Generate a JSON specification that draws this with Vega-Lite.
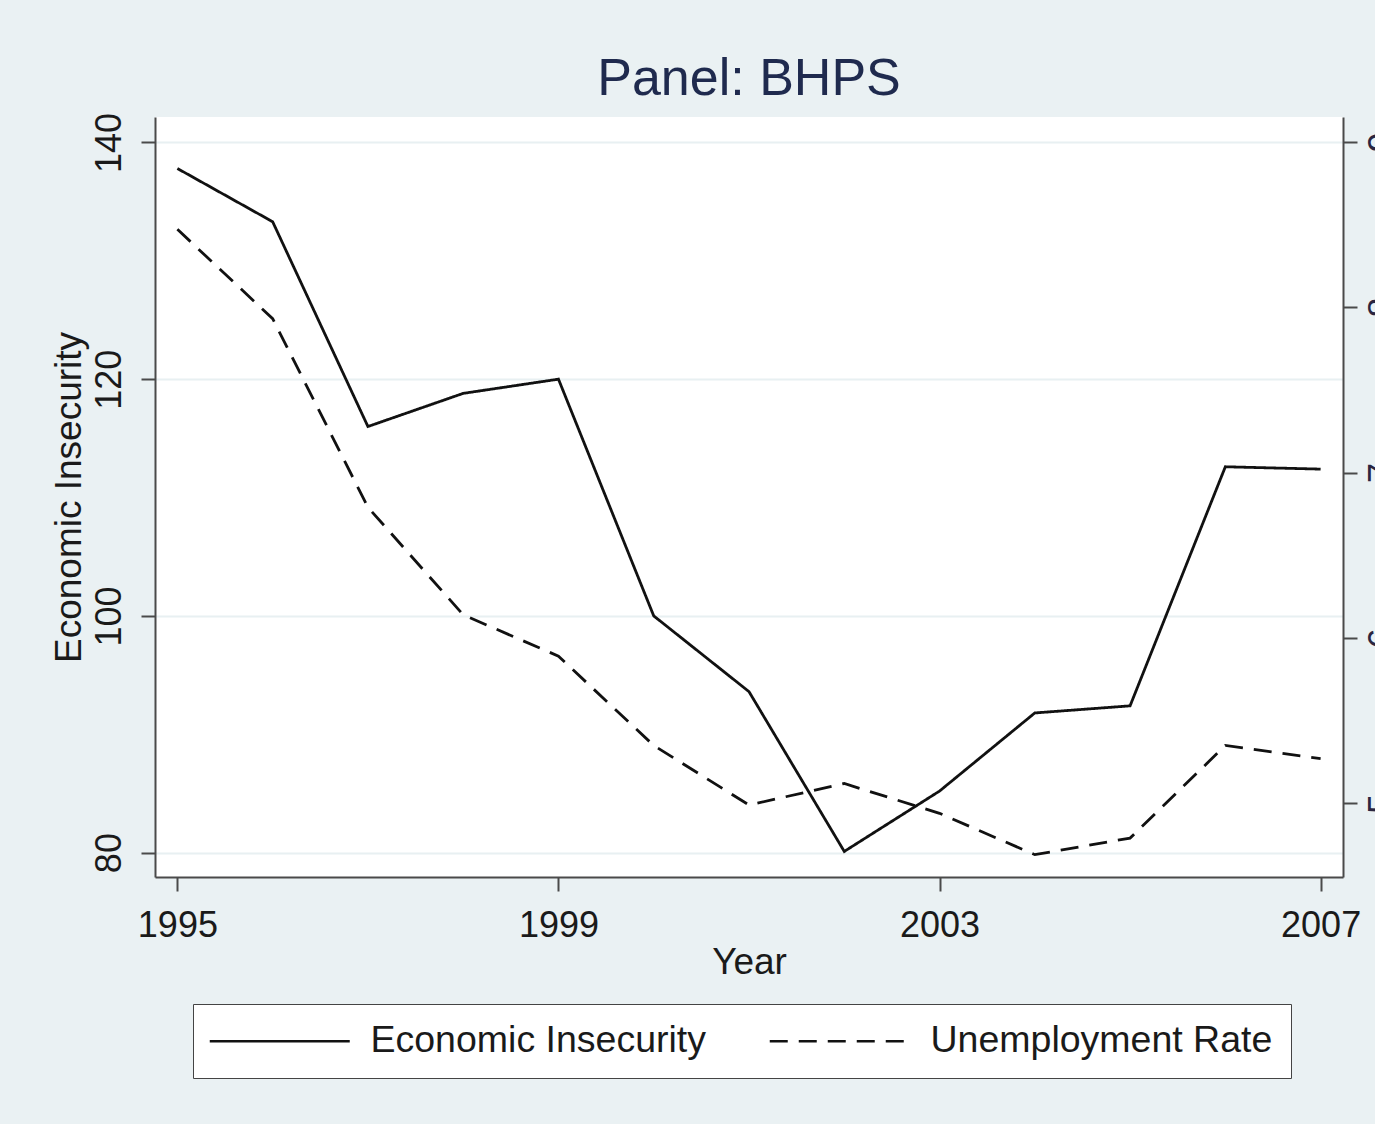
{
  "$schema": "https://vega.github.io/schema/vega-lite/v6.json",
  "width": 1188,
  "height": 760,
  "autosize": {"type": "none"},
  "padding": {"left": 155, "top": 117, "right": 32, "bottom": 247},
  "background": "#EAF1F3",
  "title": {
    "text": "Panel: BHPS",
    "font": "Liberation Sans",
    "fontSize": 52,
    "fontWeight": "normal",
    "color": "#1f2a4e",
    "anchor": "middle",
    "frame": "group",
    "baseline": "alphabetic",
    "offset": -35
  },
  "config": {
    "view": {"stroke": null, "fill": "white"},
    "axis": {
      "labelFont": "Liberation Sans",
      "labelFontSize": 36,
      "labelColor": "#1a1a1a",
      "titleFont": "Liberation Sans",
      "titleFontSize": 37,
      "titleFontWeight": "normal",
      "titleColor": "#1a1a1a",
      "domainColor": "#4a4a4a",
      "domainWidth": 2,
      "tickColor": "#4a4a4a",
      "tickWidth": 2,
      "tickSize": 14,
      "gridColor": "#E8F0F2",
      "gridWidth": 2
    }
  },
  "data": {
    "values": [
      {"year": 1995, "series": "Economic Insecurity", "value": 137.8},
      {"year": 1996, "series": "Economic Insecurity", "value": 133.3},
      {"year": 1997, "series": "Economic Insecurity", "value": 116.0},
      {"year": 1998, "series": "Economic Insecurity", "value": 118.8},
      {"year": 1999, "series": "Economic Insecurity", "value": 120.0},
      {"year": 2000, "series": "Economic Insecurity", "value": 100.0},
      {"year": 2001, "series": "Economic Insecurity", "value": 93.6},
      {"year": 2002, "series": "Economic Insecurity", "value": 80.1},
      {"year": 2003, "series": "Economic Insecurity", "value": 85.2},
      {"year": 2004, "series": "Economic Insecurity", "value": 91.8},
      {"year": 2005, "series": "Economic Insecurity", "value": 92.4},
      {"year": 2006, "series": "Economic Insecurity", "value": 112.6},
      {"year": 2007, "series": "Economic Insecurity", "value": 112.4},
      {"year": 1995, "series": "Unemployment Rate", "value": 8.47},
      {"year": 1996, "series": "Unemployment Rate", "value": 7.93},
      {"year": 1997, "series": "Unemployment Rate", "value": 6.79},
      {"year": 1998, "series": "Unemployment Rate", "value": 6.14},
      {"year": 1999, "series": "Unemployment Rate", "value": 5.89},
      {"year": 2000, "series": "Unemployment Rate", "value": 5.35},
      {"year": 2001, "series": "Unemployment Rate", "value": 4.99},
      {"year": 2002, "series": "Unemployment Rate", "value": 5.12},
      {"year": 2003, "series": "Unemployment Rate", "value": 4.94},
      {"year": 2004, "series": "Unemployment Rate", "value": 4.69},
      {"year": 2005, "series": "Unemployment Rate", "value": 4.79},
      {"year": 2006, "series": "Unemployment Rate", "value": 5.35},
      {"year": 2007, "series": "Unemployment Rate", "value": 5.27}
    ]
  },
  "encoding": {
    "x": {
      "field": "year",
      "type": "quantitative",
      "scale": {"domain": [1994.765, 2007.235], "nice": false, "zero": false},
      "axis": {
        "values": [1995, 1999, 2003, 2007],
        "format": "d",
        "grid": false,
        "title": "Year",
        "labelPadding": 17,
        "titleBaseline": "alphabetic",
        "titlePadding": 30
      }
    },
    "strokeDash": {
      "field": "series",
      "type": "nominal",
      "scale": {
        "domain": ["Economic Insecurity", "Unemployment Rate"],
        "range": [[1, 0], [18, 11]]
      },
      "legend": {
        "title": null,
        "orient": "none",
        "legendX": 38,
        "legendY": 887,
        "direction": "horizontal",
        "columns": 2,
        "columnPadding": 57,
        "padding": 18,
        "fillColor": "white",
        "strokeColor": "#444444",
        "cornerRadius": 0,
        "labelFont": "Liberation Sans",
        "labelFontSize": 37.5,
        "labelColor": "#1a1a1a",
        "labelLimit": 600,
        "symbolType": "M-1,0H9",
        "symbolSize": 784,
        "symbolOffset": -6,
        "symbolStrokeWidth": 2.5,
        "symbolStrokeColor": "#111111",
        "symbolFillColor": "transparent",
        "labelOffset": 128
      }
    }
  },
  "layer": [
    {
      "transform": [{"filter": "datum.series === 'Economic Insecurity'"}],
      "mark": {"type": "line", "color": "#111111", "strokeWidth": 2.8},
      "encoding": {
        "y": {
          "field": "value",
          "type": "quantitative",
          "scale": {"domain": [77.94, 142.15], "nice": false, "zero": false},
          "axis": {
            "orient": "left",
            "values": [80, 100, 120, 140],
            "grid": true,
            "title": "Economic Insecurity",
            "labelAngle": -90,
            "labelAlign": "center",
            "labelBaseline": "alphabetic",
            "labelPadding": 21,
            "titleBaseline": "alphabetic",
            "titlePadding": 11
          }
        }
      }
    },
    {
      "transform": [{"filter": "datum.series === 'Unemployment Rate'"}],
      "mark": {"type": "line", "color": "#111111", "strokeWidth": 2.8},
      "encoding": {
        "y": {
          "field": "value",
          "type": "quantitative",
          "scale": {"domain": [4.555, 9.149], "nice": false, "zero": false},
          "axis": {
            "orient": "right",
            "values": [5, 6, 7, 8, 9],
            "format": "d",
            "grid": false,
            "title": null,
            "labelAngle": -90,
            "labelAlign": "center",
            "labelBaseline": "top",
            "labelPadding": 8,
            "labelColor": "#2a2540"
          }
        }
      }
    }
  ],
  "resolve": {"scale": {"y": "independent"}}
}
